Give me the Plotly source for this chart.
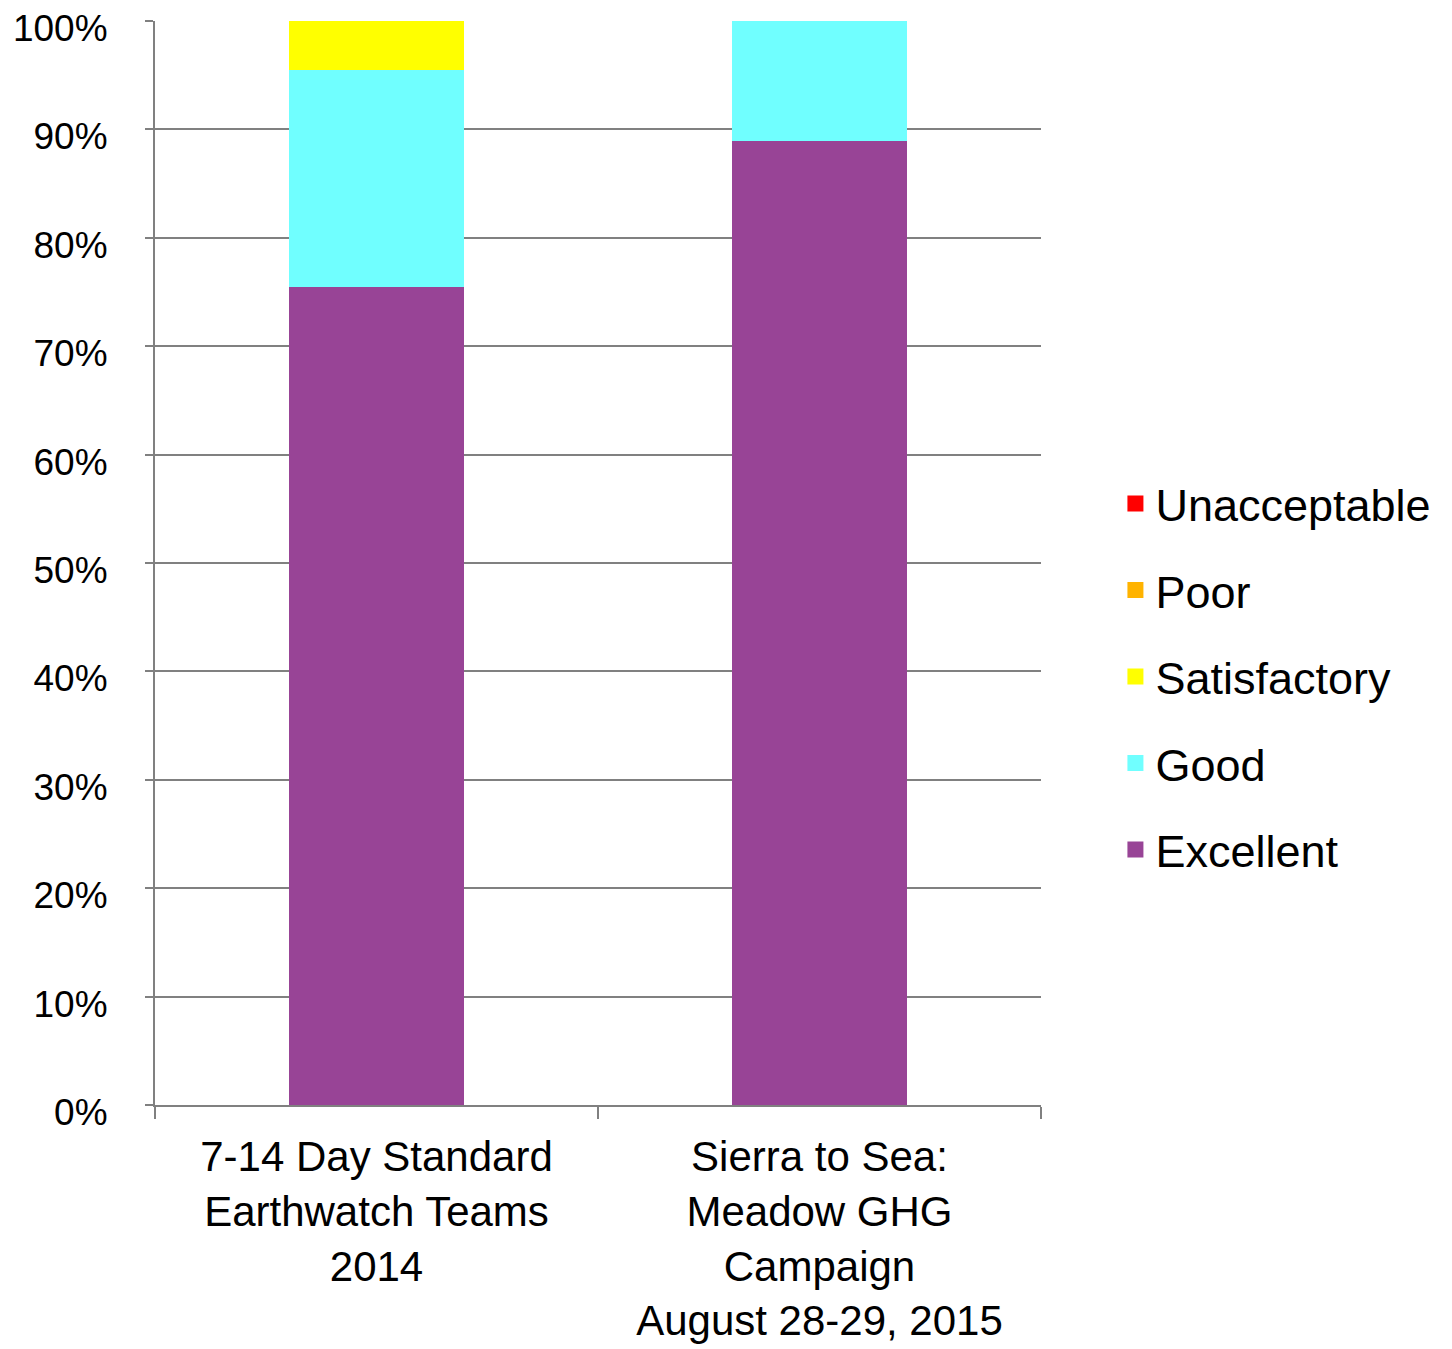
import plotly.graph_objects as go

categories = ["7-14 Day Standard<br>Earthwatch Teams<br>2014",
              "Sierra to Sea:<br>Meadow GHG<br>Campaign<br>August 28-29, 2015"]
series_names = ["Excellent", "Good", "Satisfactory", "Poor", "Unacceptable"]
excellent = [0.755, 0.889]
good = [0.200, 0.111]
satisfactory = [0.045, 0.0]
poor = [0.0, 0.0]
unacceptable = [0.0, 0.0]
colors = ["#984496", "#70FFFF", "#FFFF00", "#FFB300", "#FF0000"]

fig = go.Figure()
n = len(series_names)
for i, (name, vals, col) in enumerate(zip(series_names,
                                          [excellent, good, satisfactory, poor, unacceptable],
                                          colors)):
    fig.add_trace(go.Bar(x=categories, y=vals, name=name, marker_color=col,
                         marker_line_width=0, legendgroup=name, showlegend=False))
    # legend swatch
    fig.add_trace(go.Scatter(x=[None], y=[None], mode="markers", name=name,
                             marker=dict(symbol="square", size=20, color=col),
                             legendgroup=name, legendrank=n - i, showlegend=True))

fig.update_layout(
    barmode="stack",
    bargap=0.605,
    width=1444, height=1341,
    margin=dict(l=147, r=411, t=13, b=244),
    plot_bgcolor="white", paper_bgcolor="white",
    font=dict(family="Liberation Sans, Arial, sans-serif", color="black"),
    legend=dict(x=1.084, y=0.395, xanchor="left", yanchor="middle",
                traceorder="grouped", tracegroupgap=25,
                font=dict(size=45), itemwidth=30, itemsizing="trace"),
    showlegend=True,
)
fig.update_yaxes(range=[0, 1], dtick=0.1, tickformat=".0%", automargin=False,
                 showgrid=True, gridcolor="#808080", gridwidth=2,
                 showline=True, linecolor="#808080", linewidth=2,
                 ticks="outside", ticklen=8, tickcolor="#808080", tickwidth=2,
                 ticklabelstandoff=30, ticklabeloverflow="allow",
                 ticklabelshift=7,
                 tickfont=dict(size=37), zeroline=False)
fig.update_xaxes(showline=True, linecolor="#808080", linewidth=2, automargin=False,
                 ticks="outside", tickson="boundaries", ticklen=12,
                 tickcolor="#808080", tickwidth=2, ticklabelstandoff=14,
                 ticklabeloverflow="allow",
                 tickfont=dict(size=42), tickangle=0)

fig.write_html("out.html")
